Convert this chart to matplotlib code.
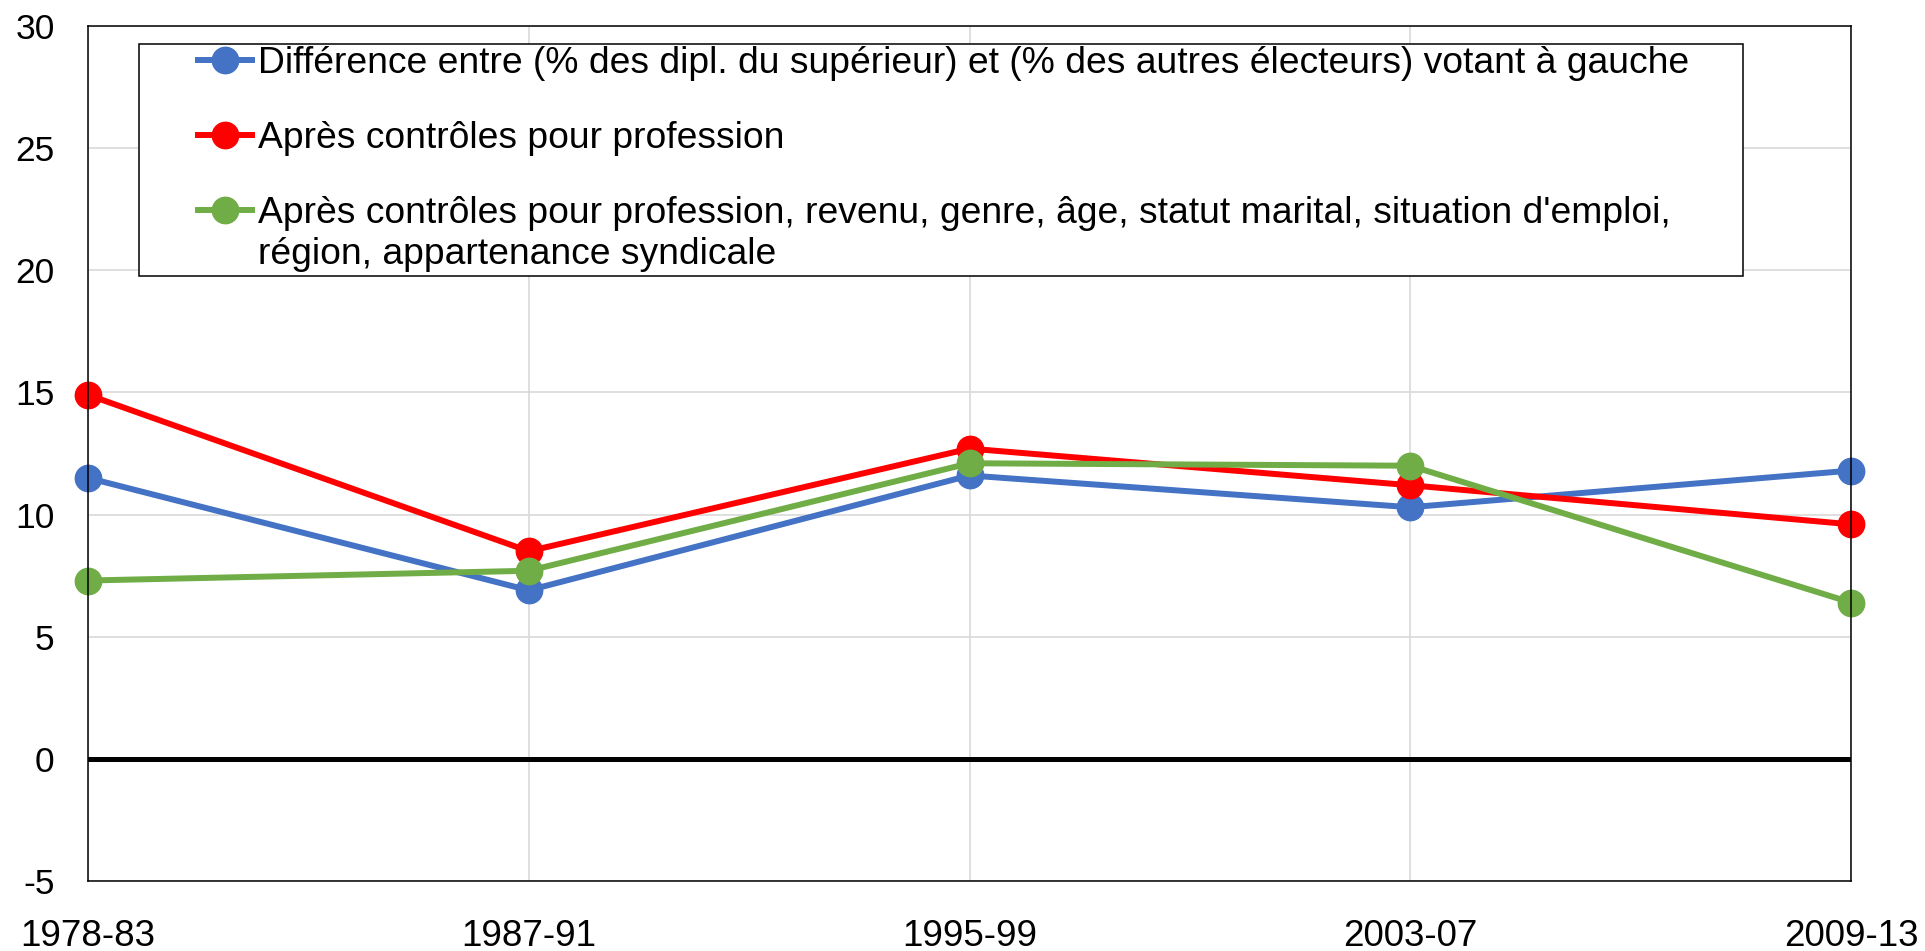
import matplotlib
matplotlib.use("Agg")
import matplotlib.pyplot as plt
from matplotlib.patches import Rectangle

plt.rcParams['font.family'] = ['Liberation Sans', 'DejaVu Sans']
plt.rcParams['axes.unicode_minus'] = False

periodes = ["1978-83", "1987-91", "1995-99", "2003-07", "2009-13"]
ecart_brut = [11.5, 6.9, 11.6, 10.3, 11.8]
ctrl_profession = [14.9, 8.5, 12.7, 11.2, 9.6]
ctrl_complet = [7.3, 7.7, 12.1, 12.0, 6.4]

labels = [
    "Différence entre (% des dipl. du supérieur) et (% des autres électeurs) votant à gauche",
    "Après contrôles pour profession",
    "Après contrôles pour profession, revenu, genre, âge, statut marital, situation d'emploi,",
]
label_suite = "région, appartenance syndicale"
couleurs = ["#4472C4", "#FF0000", "#70AD47"]

fig = plt.figure(figsize=(19.25, 9.51), dpi=100)
ax = fig.add_axes([88/1925, 1-881/951, (1851-88)/1925, (881-26)/951])

x = list(range(len(periodes)))
for serie, lab, c in zip([ecart_brut, ctrl_profession, ctrl_complet], labels, couleurs):
    ax.plot(x, serie, color=c, lw=4.3, marker='o', markersize=19, label=lab,
            zorder=2.3, clip_on=False)

ax.axhline(0, color='black', lw=3.6, zorder=2.1)

ax.set_xlim(0, len(periodes) - 1)
ax.set_ylim(-5, 30)
ax.set_yticks(range(-5, 31, 5))
ax.set_xticks(x)
ax.set_xticklabels(periodes)
ax.grid(True, color='#d9d9d9', lw=1.2)
ax.set_axisbelow(True)
ax.tick_params(axis='y', length=0, labelsize=25.5, pad=24)
ax.tick_params(axis='x', length=0, labelsize=26.5, pad=27)
for s in ax.spines.values():
    s.set_color('black')
    s.set_linewidth(1.1)

box = Rectangle((139/1925, 1-276/951), 1604/1925, 232/951, transform=fig.transFigure,
                facecolor='white', edgecolor='black', lw=1.1, zorder=4)
ax.add_patch(box)

leg = ax.legend(loc='upper left', bbox_to_anchor=(198/1925, 1-46/951), bbox_transform=fig.transFigure,
                frameon=False, fontsize=26.8, borderpad=0, borderaxespad=0, handlelength=1.45,
                handletextpad=0.15, labelspacing=1.07)
leg.set_zorder(5)
ax.annotate(label_suite, xy=(0, 0), xycoords=leg.get_texts()[2], xytext=(0, -30),
            textcoords='offset points', fontsize=26.8, va='bottom', ha='left', zorder=6)

fig.savefig("out.png", dpi=100)
